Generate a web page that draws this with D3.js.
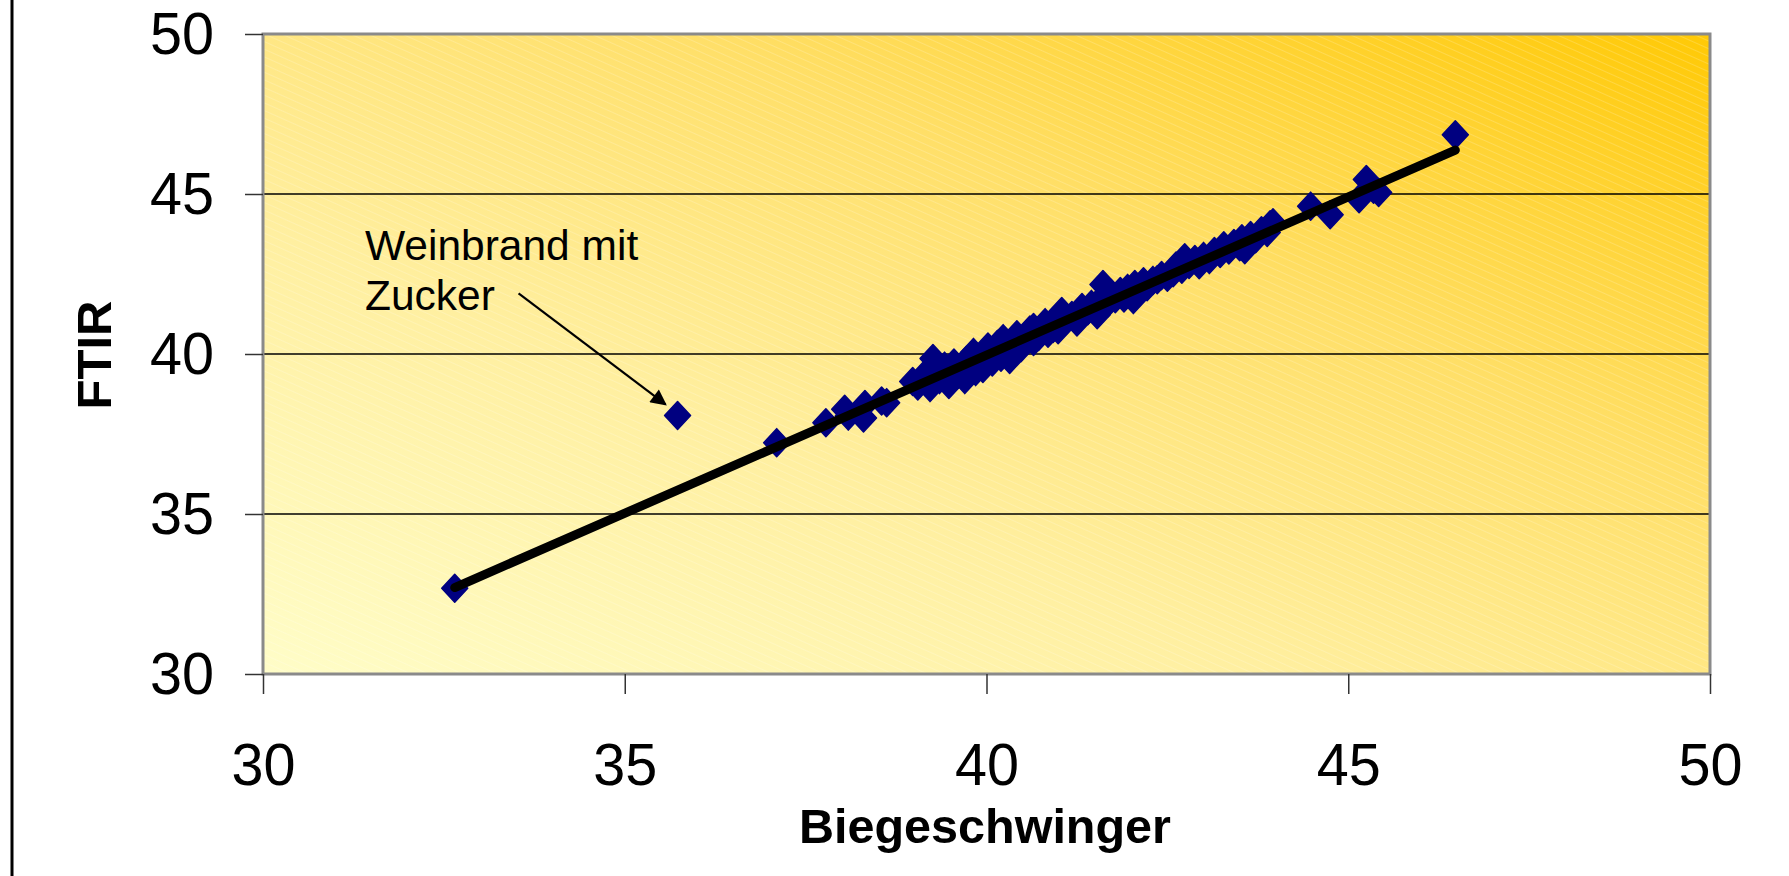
<!DOCTYPE html>
<html>
<head>
<meta charset="utf-8">
<script src="https://cdn.jsdelivr.net/npm/d3@7"></script>
<style>
  html, body { margin: 0; padding: 0; background: #fff; }
  svg { display: block; font-family: "Liberation Sans", Arial, sans-serif; }
</style>
</head>
<body>
<svg id="chart" width="1789" height="876"></svg>
<script>
// ---- data ----
const biegeschwinger = [
  32.65, 35.73, 37.10, 37.78, 38.04, 38.09, 38.30, 38.32, 38.55, 38.62,
  38.98, 39.05, 39.12, 39.22, 39.26, 39.30, 39.35, 39.42, 39.48, 39.50,
  39.55, 39.60, 39.65, 39.70, 39.72, 39.78, 39.82, 39.85, 39.90, 39.95,
  40.00, 40.02, 40.08, 40.12, 40.15, 40.20, 40.23, 40.28, 40.32, 40.38,
  40.42, 40.48, 40.55, 40.60, 40.65, 40.65, 40.72, 40.81, 40.85, 40.92,
  40.99, 41.04, 41.10, 41.18, 41.25, 41.29, 41.32, 41.40, 41.45, 41.53,
  41.58, 41.61, 41.68, 41.72, 41.78, 41.85, 41.90, 41.95, 42.03, 42.05,
  42.10, 42.17, 42.22, 42.30, 42.36, 42.42, 42.50, 42.58, 42.62, 42.70,
  42.74, 42.80, 42.88, 42.94, 43.00, 43.08, 43.15, 43.23, 43.28, 43.35,
  43.42, 43.50, 43.53, 43.57, 43.65, 43.72, 43.80, 43.88, 43.92, 43.96,
  44.48, 44.75, 45.15, 45.25, 45.35, 45.42, 46.48
];
const ftir = [
  32.68, 38.08, 37.23, 37.85, 38.27, 38.06, 38.00, 38.42, 38.53, 38.48,
  39.14, 39.00, 39.30, 38.95, 39.86, 39.45, 39.20, 39.62, 39.05, 39.40,
  39.72, 39.35, 39.55, 39.20, 39.80, 39.60, 40.05, 39.45, 39.75, 39.55,
  39.95, 40.22, 39.75, 40.05, 40.30, 39.90, 40.48, 40.15, 39.83, 40.35,
  40.60, 40.20, 40.45, 40.75, 40.39, 40.83, 40.55, 40.98, 40.65, 40.80,
  40.76, 41.33, 41.05, 41.20, 41.00, 41.23, 41.45, 41.35, 41.55, 41.23,
  41.70, 42.17, 41.60, 41.90, 41.73, 41.95, 41.75, 42.05, 41.70, 42.17,
  42.00, 42.26, 42.10, 42.30, 42.32, 42.45, 42.40, 42.54, 42.75, 42.65,
  43.01, 42.80, 42.95, 42.79, 43.05, 42.95, 43.20, 43.14, 43.38, 43.25,
  43.45, 43.35, 43.60, 43.26, 43.70, 43.60, 43.85, 43.80, 44.04, 44.10,
  44.62, 44.35, 44.85, 45.45, 45.15, 45.05, 46.85
];
const xTicks = [30, 35, 40, 45, 50];
const yTicks = [30, 35, 40, 45, 50];
const gridValues = [35, 40, 45];
const trendSlope = 0.9884;
const trendIntercept = 0.43;
const xTitle = "Biegeschwinger";
const yTitle = "FTIR";
const noteLines = ["Weinbrand mit", "Zucker"];
const notePoint = [35.73, 38.08];
const noteAnchor = [31.41, 42.95];

// ---- layout ----
const svg = d3.select("#chart");
const L = 263, R = 1710, T = 34, B = 674;
const x = d3.scaleLinear().domain([30, 50]).range([L, R]);
const y = d3.scaleLinear().domain([30, 50]).range([B, T]);

const defs = svg.append("defs");
const grad = defs.append("linearGradient").attr("id", "bg")
  .attr("x1", 0).attr("y1", 1).attr("x2", 1).attr("y2", 0);
grad.append("stop").attr("offset", "0%").attr("stop-color", "#FFFDC8");
grad.append("stop").attr("offset", "35%").attr("stop-color", "#FFEFA0");
grad.append("stop").attr("offset", "65%").attr("stop-color", "#FFDF68");
grad.append("stop").attr("offset", "100%").attr("stop-color", "#FFC905");

const pat = defs.append("pattern").attr("id", "hatch")
  .attr("patternUnits", "userSpaceOnUse").attr("width", 7).attr("height", 7)
  .attr("patternTransform", "rotate(24)");
pat.append("line").attr("x1", 0).attr("y1", 0.5).attr("x2", 7).attr("y2", 0.5)
  .attr("stroke", "#fff").attr("stroke-width", 1).attr("stroke-opacity", 0.18);

defs.append("marker").attr("id", "arrow")
  .attr("viewBox", "0 0 10 10").attr("refX", 9).attr("refY", 5)
  .attr("markerWidth", 18).attr("markerHeight", 16).attr("orient", "auto")
  .attr("markerUnits", "userSpaceOnUse")
  .append("path").attr("d", "M0,0 L10,5 L0,10 Z").attr("fill", "#000");

// left frame line
svg.append("line").attr("x1", 12).attr("x2", 12).attr("y1", 0).attr("y2", 876)
  .attr("stroke", "#000").attr("stroke-width", 3);

// plot area
svg.append("rect").attr("x", L).attr("y", T).attr("width", R - L).attr("height", B - T)
  .attr("fill", "url(#bg)");
svg.append("rect").attr("x", L).attr("y", T).attr("width", R - L).attr("height", B - T)
  .attr("fill", "url(#hatch)");

// gridlines
svg.append("g").selectAll("line").data(gridValues).join("line")
  .attr("x1", L).attr("x2", R).attr("y1", d => y(d)).attr("y2", d => y(d))
  .attr("stroke", "#000").attr("stroke-width", 1.3);

// border
svg.append("rect").attr("x", L).attr("y", T).attr("width", R - L).attr("height", B - T)
  .attr("fill", "none").attr("stroke", "#8a8a8a").attr("stroke-width", 3);

// axes
const fs = 60;
const xAxis = svg.append("g").attr("transform", `translate(0,${B})`)
  .call(d3.axisBottom(x).tickValues(xTicks).tickSize(20).tickPadding(48).tickFormat(d3.format("d")));
const yAxis = svg.append("g").attr("transform", `translate(${L},0)`)
  .call(d3.axisLeft(y).tickValues(yTicks).tickSize(18).tickPadding(31).tickFormat(d3.format("d")));
[xAxis, yAxis].forEach(g => {
  g.select(".domain").remove();
  g.selectAll(".tick line").attr("stroke", "#333").attr("stroke-width", 1.5);
  g.selectAll(".tick text").attr("fill", "#000").style("font-size", fs + "px")
    .style("font-family", '"Liberation Sans", Arial, sans-serif')
    .attr("textLength", 64).attr("lengthAdjust", "spacingAndGlyphs");
});

// points
const pts = biegeschwinger.map((v, i) => [v, ftir[i]]);
const pg = svg.append("g");
pg.selectAll("path").data(pts).join("path")
  .attr("transform", d => `translate(${x(d[0])},${y(d[1])})`)
  .attr("d", "M0,-14 L13,0 L0,14 L-13,0 Z")
  .attr("fill", "#000080").attr("stroke", "#000080").attr("stroke-width", 1.5)
  .attr("stroke-linejoin", "round");

// trend line on top
const xMin = d3.min(biegeschwinger), xMax = d3.max(biegeschwinger);
svg.append("line")
  .attr("x1", x(xMin)).attr("y1", y(trendSlope * xMin + trendIntercept))
  .attr("x2", x(xMax)).attr("y2", y(trendSlope * xMax + trendIntercept))
  .attr("stroke", "#000").attr("stroke-width", 9).attr("stroke-linecap", "round");

// annotation
const note = svg.append("text").attr("x", x(noteAnchor[0])).attr("y", y(noteAnchor[1]))
  .style("font-size", "42.5px").attr("fill", "#000");
note.selectAll("tspan").data(noteLines).join("tspan")
  .attr("x", x(noteAnchor[0])).attr("dy", (d, i) => i === 0 ? 0 : 50).text(d => d);
const px = x(notePoint[0]), py = y(notePoint[1]);
svg.append("line").attr("x1", px - 159).attr("y1", py - 122)
  .attr("x2", px - 12).attr("y2", py - 11)
  .attr("stroke", "#000").attr("stroke-width", 2.2).attr("marker-end", "url(#arrow)");

// titles
svg.append("text").attr("x", 985).attr("y", 843).attr("text-anchor", "middle")
  .style("font-size", "48.5px").style("font-weight", "bold").text(xTitle);
svg.append("text").attr("transform", "translate(111,355) rotate(-90)").attr("text-anchor", "middle")
  .style("font-size", "49px").style("font-weight", "bold").text(yTitle);
</script>
</body>
</html>
